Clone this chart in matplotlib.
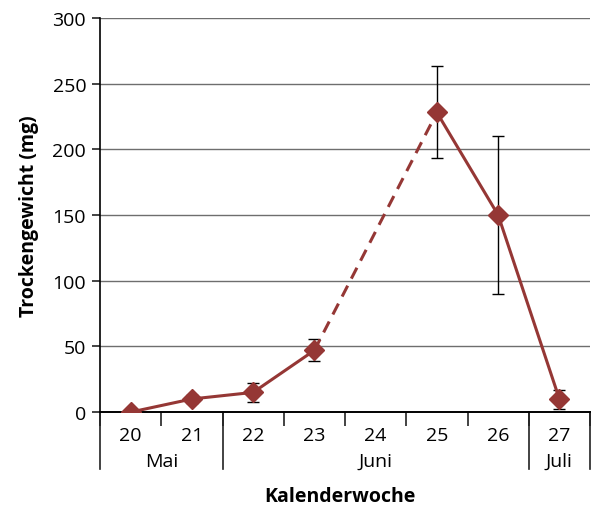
#!/usr/bin/env python3
"""Trockengewicht pro Kalenderwoche mit Fehlerbalken."""

import matplotlib

matplotlib.use("Agg")
import matplotlib.pyplot as plt
import matplotlib.transforms as mtransforms

weeks = ["20", "21", "22", "23", "24", "25", "26", "27"]
weight = [0, 10, 15, 47, None, 228, 150, 10]
err_low = [0, 3, 7, 8, None, 35, 60, 8]
err_high = [0, 3, 7, 9, None, 35, 60, 7]
months = ["Mai", "Juni", "Juli"]
month_spans = [(0, 1), (2, 6), (7, 7)]

RED = "#953735"

plt.rcParams["font.family"] = ["Open Sans", "DejaVu Sans"]

fig = plt.figure(figsize=(5.92, 5.10), dpi=100)
ax = fig.add_axes([0.169, 0.190, 0.8276, 0.773])

xs = list(range(len(weeks)))
measured = [(x, y) for x, y in zip(xs, weight) if y is not None]

# solid segments, dashed gap over the missing week
ax.plot(xs[0:4], weight[0:4], color=RED, lw=2.2, zorder=3)
ax.plot([3, 5], [weight[3], weight[5]], color=RED, lw=2.2, ls=(0, (4, 2.6)), zorder=3)
ax.plot(xs[5:8], weight[5:8], color=RED, lw=2.2, zorder=3)

ex = [x for x, _ in measured]
ey = [y for _, y in measured]
elo = [err_low[x] for x in ex]
ehi = [err_high[x] for x in ex]
ax.errorbar(ex, ey, yerr=[elo, ehi], fmt="none", ecolor="black", elinewidth=1.0,
            capsize=4.5, capthick=1.0, zorder=2)
ax.plot(ex, ey, ls="none", marker="D", ms=10.5, color=RED, zorder=4)

ax.set_xlim(-0.5, len(weeks) - 0.5)
ax.set_ylim(0, 300)
ax.set_yticks(range(0, 301, 50))
ax.yaxis.grid(True, color="#6e6e6e", lw=1.0)
ax.set_axisbelow(True)

for side in ("top", "right"):
    ax.spines[side].set_visible(False)
ax.spines["left"].set_linewidth(1.2)
ax.spines["bottom"].set_linewidth(1.4)
ax.tick_params(axis="y", length=6, width=1.2, labelsize=14, pad=4, color="#222222")

ax.set_xticks(xs)
ax.set_xticklabels(weeks, fontsize=14)
ax.tick_params(axis="x", which="major", length=0, pad=10)
ax.set_xticks([x - 0.5 for x in range(len(weeks) + 1)], minor=True)
ax.tick_params(axis="x", which="minor", length=10, width=1.2, color="#222222")

trans = mtransforms.blended_transform_factory(ax.transData, ax.transAxes)
separators = [-0.5] + [end + 0.5 for _, end in month_spans]
for sx in separators:
    ax.plot([sx, sx], [0, -0.145], transform=trans, color="#222222", lw=1.2, clip_on=False)
for name, (start, end) in zip(months, month_spans):
    ax.text((start + end) / 2, -0.124, name, transform=trans, ha="center", va="center", fontsize=14)

ax.set_ylabel("Trockengewicht (mg)", fontsize=14, fontweight="bold", labelpad=10)
fig.text(0.575, 0.025, "Kalenderwoche", ha="center", va="center", fontsize=14, fontweight="bold")

fig.savefig("out.png")
